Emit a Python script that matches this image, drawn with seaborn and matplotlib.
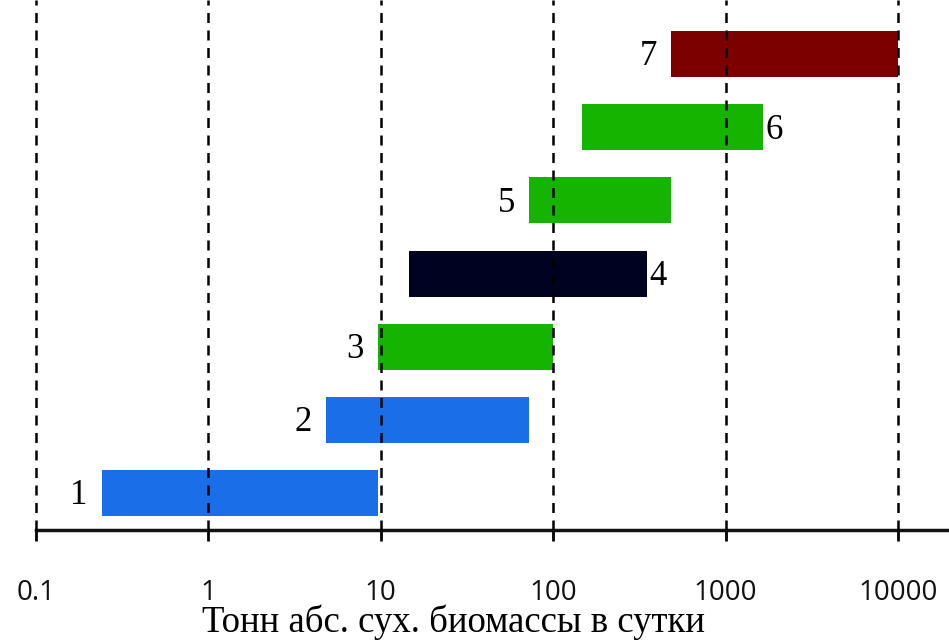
import numpy as np
import pandas as pd
import matplotlib
matplotlib.use("Agg")
import matplotlib.pyplot as plt
import seaborn as sns

# Plant classes: daily throughput range (tonnes of absolutely dry biomass)
labels = ["1", "2", "3", "4", "5", "6", "7"]
range_start = [0.24, 4.8, 9.6, 14.5, 72, 146, 480]
range_end = [9.6, 72, 100, 350, 480, 1650, 10000]
bar_colors = ["#1a6ee8", "#1a6ee8", "#14b400", "#000222", "#14b400", "#14b400", "#7d0000"]
label_side = ["left", "left", "left", "right", "left", "right", "left"]
decades = [0.1, 1, 10, 100, 1000, 10000]
decade_labels = ["0.1", "1", "10", "100", "1000", "10000"]
xlabel_text = "Тонн абс. сух. биомассы в сутки"

df = pd.DataFrame({"label": labels, "start": range_start, "end": range_end,
                   "color": bar_colors, "side": label_side})
df["pos"] = np.arange(len(df))

sns.set_theme(style="white")
plt.rcParams["font.family"] = ["Open Sans", "DejaVu Sans"]

fig = plt.figure(figsize=(9.49, 6.41), dpi=100)
ax = fig.add_axes([36 / 949, 1 - 530 / 641, 1 - 36 / 949, 530 / 641])

ax.barh(df["pos"], df["end"] - df["start"], left=df["start"], height=0.63,
        color=df["color"], edgecolor="none", zorder=2)

ax.set_xscale("log")
ax.set_xlim(0.1, 10 ** 4.296)
ax.set_ylim(-0.505, 6.74)

# dashed decade guides drawn over the bars
for d in decades:
    ax.axvline(d, color="black", lw=1.8, ls=(0, (4, 3)), zorder=3, clip_on=False)

for _, r in df.iterrows():
    if r["side"] == "left":
        ax.annotate(r["label"], (r["start"], r["pos"]), xytext=(-10, -2),
                    textcoords="offset points", ha="right", va="center",
                    fontsize=25, family="Liberation Serif", color="black")
    else:
        ax.annotate(r["label"], (r["end"], r["pos"]), xytext=(2, -2),
                    textcoords="offset points", ha="left", va="center",
                    fontsize=25, family="Liberation Serif", color="black")

ax.set_xticks(decades)
ax.set_xticklabels(decade_labels)
ax.xaxis.set_minor_locator(matplotlib.ticker.NullLocator())
ax.tick_params(axis="x", which="major", direction="out", length=8, width=2,
               color="black", pad=27, labelsize=20, labelcolor="#111111", bottom=True)
ax.set_yticks([])
for s in ["left", "right", "top"]:
    ax.spines[s].set_visible(False)
ax.spines["bottom"].set_linewidth(2.5)
ax.spines["bottom"].set_color("#111111")

fig.text(454 / 949, 1 - 632 / 641, xlabel_text, ha="center", va="baseline",
         fontsize=26.5, family="Liberation Serif", color="black")

fig.savefig("out.png", dpi=100)
